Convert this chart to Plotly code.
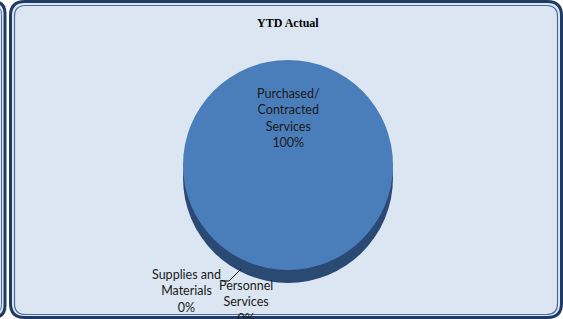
import plotly.graph_objects as go

# ---- data ----
categories = ["Personnel Services", "Supplies and Materials", "Purchased/Contracted Services"]
values = [0, 0, 100]
label_lines = [["Personnel", "Services"], ["Supplies and", "Materials"], ["Purchased/", "Contracted", "Services"]]
title_text = "YTD Actual"

W, H = 563, 319
total = sum(values)
pcts = [f"{round(v / total * 100)}%" for v in values]


def px(x):
    return x / W


def py(y):
    return 1 - y / H


def rrect(x0, y0, x1, y1, r):
    return (f"M {px(x0 + r)},{py(y0)} L {px(x1 - r)},{py(y0)} Q {px(x1)},{py(y0)} {px(x1)},{py(y0 + r)} "
            f"L {px(x1)},{py(y1 - r)} Q {px(x1)},{py(y1)} {px(x1 - r)},{py(y1)} "
            f"L {px(x0 + r)},{py(y1)} Q {px(x0)},{py(y1)} {px(x0)},{py(y1 - r)} "
            f"L {px(x0)},{py(y0 + r)} Q {px(x0)},{py(y0)} {px(x0 + r)},{py(y0)} Z")


cx, cy, d, depth = 288, 165, 210, 13
top_dom_x = [px(cx - d / 2), px(cx + d / 2)]
top_dom_y = [py(cy + d / 2), py(cy - d / 2)]
sh_dom_y = [py(cy + d / 2 + depth), py(cy - d / 2 + depth)]

fig = go.Figure()
# side (depth) of the 3D pie
fig.add_trace(go.Pie(labels=categories, values=values, sort=False, direction="clockwise", rotation=90,
                     domain=dict(x=top_dom_x, y=sh_dom_y), textinfo="none", hoverinfo="skip",
                     marker=dict(colors=["#2A4A73"] * 3, line=dict(width=0)), showlegend=False))
# top face
fig.add_trace(go.Pie(labels=categories, values=values, sort=False, direction="clockwise", rotation=90,
                     domain=dict(x=top_dom_x, y=top_dom_y), textinfo="none",
                     marker=dict(colors=["#4A7EBB"] * 3, line=dict(width=0)), showlegend=False))

shapes = [
    # left neighbour panel (partial)
    dict(type="path", path=rrect(-40, 1.5, 5, 317.5, 12), xref="paper", yref="paper",
         line=dict(color="#1F3A63", width=3), fillcolor="#DCE6F2", layer="below"),
    dict(type="path", path=rrect(-40, 5.5, 1.5, 313.5, 9), xref="paper", yref="paper",
         line=dict(color="#4A6E9C", width=1), layer="below"),
    # main panel
    dict(type="path", path=rrect(10.5, 1.5, 561.5, 317.5, 14), xref="paper", yref="paper",
         line=dict(color="#1F3A63", width=3), fillcolor="#DCE6F2", layer="below"),
    dict(type="path", path=rrect(14.5, 5.5, 557.5, 314.5, 11), xref="paper", yref="paper",
         line=dict(color="#4A6E9C", width=1.2), layer="below"),
    # leader line for Supplies and Materials
    dict(type="path", path=f"M {px(222)},{py(281)} L {px(229)},{py(281)} L {px(241)},{py(269)}",
         xref="paper", yref="paper", line=dict(color="#000000", width=1)),
]

lab_font = dict(family="Lato, Open Sans, sans-serif", size=12.5, color="#1a1a1a")
common = dict(xref="paper", yref="paper", showarrow=False, xanchor="center", yanchor="middle")
annotations = [
    dict(text="<b>" + title_text + "</b>", x=px(288), y=py(23),
         font=dict(family="Liberation Serif, Times New Roman, serif", size=12, color="#000000"), **common),
    dict(text="<br>".join(label_lines[2] + [pcts[2]]), x=px(288), y=py(118), font=lab_font, **common),
    dict(text="<br>".join(label_lines[1] + [pcts[1]]), x=px(186), y=py(291), font=lab_font, **common),
    dict(text="<br>".join(label_lines[0] + [pcts[0]]), x=px(246), y=py(302), font=lab_font, **common),
]

fig.update_layout(width=W, height=H, margin=dict(l=0, r=0, t=0, b=0),
                  paper_bgcolor="#FFFFFF", plot_bgcolor="#FFFFFF",
                  shapes=shapes, annotations=annotations, showlegend=False)

fig.write_html("out.html", config={"displayModeBar": False},
               post_script="document.body.style.margin='0px';document.body.style.overflow='hidden';")
